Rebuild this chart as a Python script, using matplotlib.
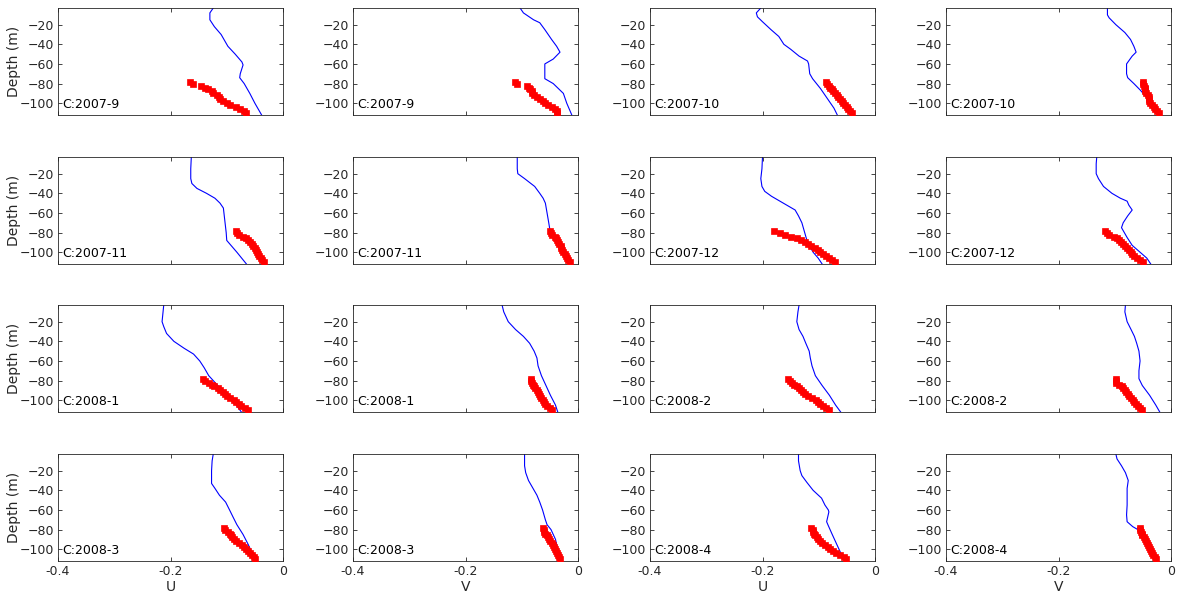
import matplotlib
matplotlib.use("Agg")
import matplotlib.pyplot as plt

# monthly profiles: model (blue line) vs observations (red squares)
titles = ["C:2007-9", "C:2007-9", "C:2007-10", "C:2007-10",
          "C:2007-11", "C:2007-11", "C:2007-12", "C:2007-12",
          "C:2008-1", "C:2008-1", "C:2008-2", "C:2008-2",
          "C:2008-3", "C:2008-3", "C:2008-4", "C:2008-4"]
components = ["U", "V"] * 8

obs_depth = [-78, -80, -82, -84, -86, -88, -90, -92, -94, -96,
             -98, -100, -102, -104, -106, -108, -110]

# model profiles, one (depth, value) list per panel
mod_depth_01 = [-3, -8, -15, -22, -30, -36, -42, -50, -58, -61, -70, -74, -80, -90, -100, -112]
mod_val_01 = [-0.124, -0.130, -0.130, -0.122, -0.110, -0.104, -0.098, -0.085, -0.073, -0.071,
              -0.076, -0.077, -0.069, -0.059, -0.050, -0.038]
mod_depth_02 = [-3, -8, -15, -18, -25, -35, -42, -48, -55, -60, -75, -80, -90, -100, -112]
mod_val_02 = [-0.103, -0.097, -0.079, -0.068, -0.059, -0.047, -0.038, -0.032, -0.044, -0.059,
              -0.059, -0.044, -0.026, -0.020, -0.011]
mod_depth_03 = [-3, -8, -12, -17, -25, -32, -40, -45, -52, -57, -60, -70, -75, -85, -95, -105, -112]
mod_val_03 = [-0.203, -0.211, -0.209, -0.200, -0.185, -0.171, -0.162, -0.150, -0.135, -0.120,
              -0.118, -0.116, -0.111, -0.097, -0.085, -0.073, -0.067]
mod_depth_04 = [-3, -10, -13, -20, -28, -35, -42, -48, -52, -60, -70, -74, -80, -87, -95, -105, -112]
mod_val_04 = [-0.113, -0.113, -0.110, -0.098, -0.082, -0.072, -0.066, -0.062, -0.069, -0.079,
              -0.079, -0.077, -0.066, -0.054, -0.042, -0.030, -0.021]
mod_depth_05 = [-3, -15, -25, -30, -35, -40, -45, -50, -55, -60, -70, -80, -88, -92, -100, -112]
mod_val_05 = [-0.163, -0.164, -0.164, -0.162, -0.153, -0.136, -0.121, -0.112, -0.106, -0.105,
              -0.103, -0.101, -0.100, -0.094, -0.082, -0.065]
mod_depth_06 = [-3, -15, -20, -25, -33, -40, -45, -50, -60, -70, -77, -85, -95, -105, -112]
mod_val_06 = [-0.108, -0.108, -0.107, -0.095, -0.077, -0.068, -0.062, -0.058, -0.055, -0.052,
              -0.050, -0.044, -0.033, -0.021, -0.013]
mod_depth_07 = [-3, -15, -25, -33, -38, -43, -48, -53, -57, -63, -70, -78, -90, -100, -106, -112]
mod_val_07 = [-0.200, -0.201, -0.203, -0.201, -0.196, -0.184, -0.169, -0.154, -0.142, -0.136,
              -0.130, -0.126, -0.120, -0.110, -0.101, -0.094]
mod_depth_08 = [-3, -10, -20, -25, -33, -40, -45, -48, -52, -57, -63, -70, -75, -85, -93, -100, -106, -112]
mod_val_08 = [-0.132, -0.133, -0.133, -0.129, -0.120, -0.105, -0.090, -0.078, -0.075, -0.069,
              -0.077, -0.085, -0.088, -0.078, -0.069, -0.055, -0.043, -0.036]
mod_depth_09 = [-3, -20, -25, -32, -40, -47, -53, -60, -67, -75, -85, -95, -105, -112]
mod_val_09 = [-0.212, -0.215, -0.212, -0.207, -0.194, -0.176, -0.159, -0.148, -0.140, -0.132,
              -0.116, -0.099, -0.083, -0.074]
mod_depth_10 = [-3, -10, -20, -28, -35, -42, -50, -57, -65, -75, -85, -95, -105, -112]
mod_val_10 = [-0.135, -0.132, -0.124, -0.111, -0.097, -0.086, -0.078, -0.073, -0.071, -0.065,
              -0.057, -0.049, -0.040, -0.036]
mod_depth_11 = [-3, -10, -20, -28, -35, -42, -50, -57, -65, -75, -85, -95, -105, -112]
mod_val_11 = [-0.135, -0.137, -0.139, -0.135, -0.128, -0.123, -0.117, -0.115, -0.112, -0.106,
              -0.094, -0.081, -0.070, -0.061]
mod_depth_12 = [-3, -10, -20, -28, -35, -42, -50, -60, -70, -78, -85, -95, -105, -112]
mod_val_12 = [-0.081, -0.082, -0.078, -0.071, -0.065, -0.061, -0.057, -0.055, -0.057, -0.057,
              -0.051, -0.038, -0.027, -0.020]
mod_depth_13 = [-3, -10, -20, -33, -38, -45, -52, -60, -67, -75, -85, -95, -100, -105, -112]
mod_val_13 = [-0.124, -0.126, -0.127, -0.127, -0.121, -0.113, -0.102, -0.095, -0.089, -0.082,
              -0.071, -0.062, -0.058, -0.055, -0.047]
mod_depth_14 = [-3, -15, -22, -30, -38, -45, -52, -60, -70, -75, -80, -90, -100, -112]
mod_val_14 = [-0.095, -0.095, -0.093, -0.088, -0.080, -0.073, -0.068, -0.063, -0.058, -0.055,
              -0.048, -0.040, -0.036, -0.030]
mod_depth_15 = [-3, -10, -20, -25, -32, -40, -48, -55, -60, -62, -67, -72, -76, -85, -95, -105, -112]
mod_val_15 = [-0.136, -0.136, -0.133, -0.130, -0.121, -0.110, -0.095, -0.089, -0.083, -0.082,
              -0.084, -0.086, -0.083, -0.076, -0.068, -0.060, -0.053]
mod_depth_16 = [-3, -8, -15, -22, -30, -38, -45, -55, -65, -72, -77, -82, -88, -95, -105, -112]
mod_val_16 = [-0.098, -0.096, -0.088, -0.081, -0.076, -0.078, -0.078, -0.078, -0.079, -0.078,
              -0.068, -0.053, -0.045, -0.038, -0.030, -0.024]

# observed values at obs_depth
obs_01 = [-0.165, -0.160, -0.146, -0.139, -0.134, -0.126, -0.124, -0.117, -0.114, -0.112,
          -0.106, -0.100, -0.095, -0.084, -0.076, -0.070, -0.066]
obs_02 = [-0.112, -0.109, -0.091, -0.088, -0.085, -0.082, -0.082, -0.079, -0.073, -0.068,
          -0.062, -0.059, -0.053, -0.047, -0.041, -0.038, -0.038]
obs_03 = [-0.088, -0.086, -0.082, -0.080, -0.076, -0.074, -0.071, -0.067, -0.065, -0.063,
          -0.059, -0.057, -0.053, -0.050, -0.048, -0.044, -0.041]
obs_04 = [-0.049, -0.049, -0.048, -0.047, -0.047, -0.046, -0.044, -0.041, -0.040, -0.040,
          -0.039, -0.037, -0.034, -0.031, -0.028, -0.025, -0.021]
obs_05 = [-0.084, -0.081, -0.078, -0.072, -0.066, -0.062, -0.059, -0.056, -0.053, -0.050,
          -0.048, -0.047, -0.044, -0.042, -0.039, -0.037, -0.034]
obs_06 = [-0.049, -0.048, -0.046, -0.041, -0.039, -0.037, -0.036, -0.034, -0.031, -0.030,
          -0.028, -0.026, -0.024, -0.022, -0.020, -0.017, -0.015]
obs_07 = [-0.180, -0.169, -0.160, -0.149, -0.139, -0.132, -0.124, -0.119, -0.113, -0.107,
          -0.102, -0.098, -0.092, -0.087, -0.082, -0.077, -0.072]
obs_08 = [-0.117, -0.114, -0.111, -0.102, -0.096, -0.093, -0.089, -0.085, -0.082, -0.078,
          -0.075, -0.072, -0.069, -0.065, -0.060, -0.056, -0.050]
obs_09 = [-0.143, -0.139, -0.132, -0.127, -0.122, -0.116, -0.112, -0.107, -0.103, -0.099,
          -0.094, -0.088, -0.084, -0.079, -0.074, -0.068, -0.063]
obs_10 = [-0.084, -0.084, -0.082, -0.080, -0.078, -0.076, -0.073, -0.071, -0.070, -0.067,
          -0.066, -0.063, -0.061, -0.058, -0.055, -0.050, -0.046]
obs_11 = [-0.155, -0.152, -0.148, -0.144, -0.139, -0.135, -0.132, -0.128, -0.125, -0.119,
          -0.112, -0.105, -0.101, -0.097, -0.092, -0.088, -0.082]
obs_12 = [-0.098, -0.098, -0.097, -0.093, -0.088, -0.085, -0.082, -0.080, -0.077, -0.074,
          -0.071, -0.068, -0.065, -0.062, -0.059, -0.055, -0.051]
obs_13 = [-0.105, -0.103, -0.098, -0.095, -0.093, -0.090, -0.087, -0.083, -0.078, -0.073,
          -0.069, -0.066, -0.062, -0.059, -0.056, -0.052, -0.049]
obs_14 = [-0.063, -0.061, -0.060, -0.058, -0.056, -0.054, -0.052, -0.050, -0.047, -0.045,
          -0.043, -0.041, -0.039, -0.037, -0.036, -0.034, -0.032]
obs_15 = [-0.113, -0.111, -0.110, -0.108, -0.107, -0.104, -0.101, -0.098, -0.094, -0.089,
          -0.084, -0.080, -0.075, -0.069, -0.062, -0.056, -0.052]
obs_16 = [-0.056, -0.055, -0.054, -0.052, -0.051, -0.048, -0.046, -0.045, -0.043, -0.041,
          -0.040, -0.038, -0.036, -0.034, -0.032, -0.029, -0.026]

mod_depths = [mod_depth_01, mod_depth_02, mod_depth_03, mod_depth_04, mod_depth_05, mod_depth_06,
              mod_depth_07, mod_depth_08, mod_depth_09, mod_depth_10, mod_depth_11, mod_depth_12,
              mod_depth_13, mod_depth_14, mod_depth_15, mod_depth_16]
mod_vals = [mod_val_01, mod_val_02, mod_val_03, mod_val_04, mod_val_05, mod_val_06,
            mod_val_07, mod_val_08, mod_val_09, mod_val_10, mod_val_11, mod_val_12,
            mod_val_13, mod_val_14, mod_val_15, mod_val_16]
obs_vals = [obs_01, obs_02, obs_03, obs_04, obs_05, obs_06, obs_07, obs_08,
            obs_09, obs_10, obs_11, obs_12, obs_13, obs_14, obs_15, obs_16]

x_ticks = [-0.4, -0.2, 0]
x_ticklabels = ["-0.4", "-0.2", "0"]
y_ticks = [-100, -80, -60, -40, -20]

W, H = 1178, 598
fig = plt.figure(figsize=(W / 100, H / 100), dpi=100)

col_left = [58, 353, 650, 946]
row_top = [8, 157, 305, 454]
ax_w, ax_h = 225, 107
edge = "#262626"

for i in range(16):
	r, c = divmod(i, 4)
	ax = fig.add_axes([col_left[c] / W, 1 - (row_top[r] + ax_h) / H, ax_w / W, ax_h / H])
	ax.plot(mod_vals[i], mod_depths[i], color="blue", lw=0.8, zorder=2)
	ax.plot(obs_vals[i], obs_depth, ls="none", marker="s", ms=5, mfc="red", mec="red",
			mew=0.5, zorder=3)
	ax.set_xlim(-0.4, 0)
	ax.set_ylim(-112, -3)
	ax.set_xticks(x_ticks)
	ax.set_yticks(y_ticks)
	ax.tick_params(direction="in", top=True, right=True, length=3, width=0.6,
				   colors=edge, labelsize=9, pad=3)
	if r == 3:
		ax.set_xticklabels(x_ticklabels)
		ax.set_xlabel(components[i], fontsize=10, color=edge, labelpad=1)
	else:
		ax.set_xticklabels([])
	if c == 0:
		ax.set_ylabel("Depth (m)", fontsize=10, color=edge, labelpad=-1)
	for sp in ax.spines.values():
		sp.set_color(edge)
		sp.set_linewidth(0.6)
	ax.text(0.02, -101, titles[i], transform=ax.get_yaxis_transform(),
			fontsize=9, color="black", va="center", ha="left")

fig.savefig("out.png", dpi=100)
